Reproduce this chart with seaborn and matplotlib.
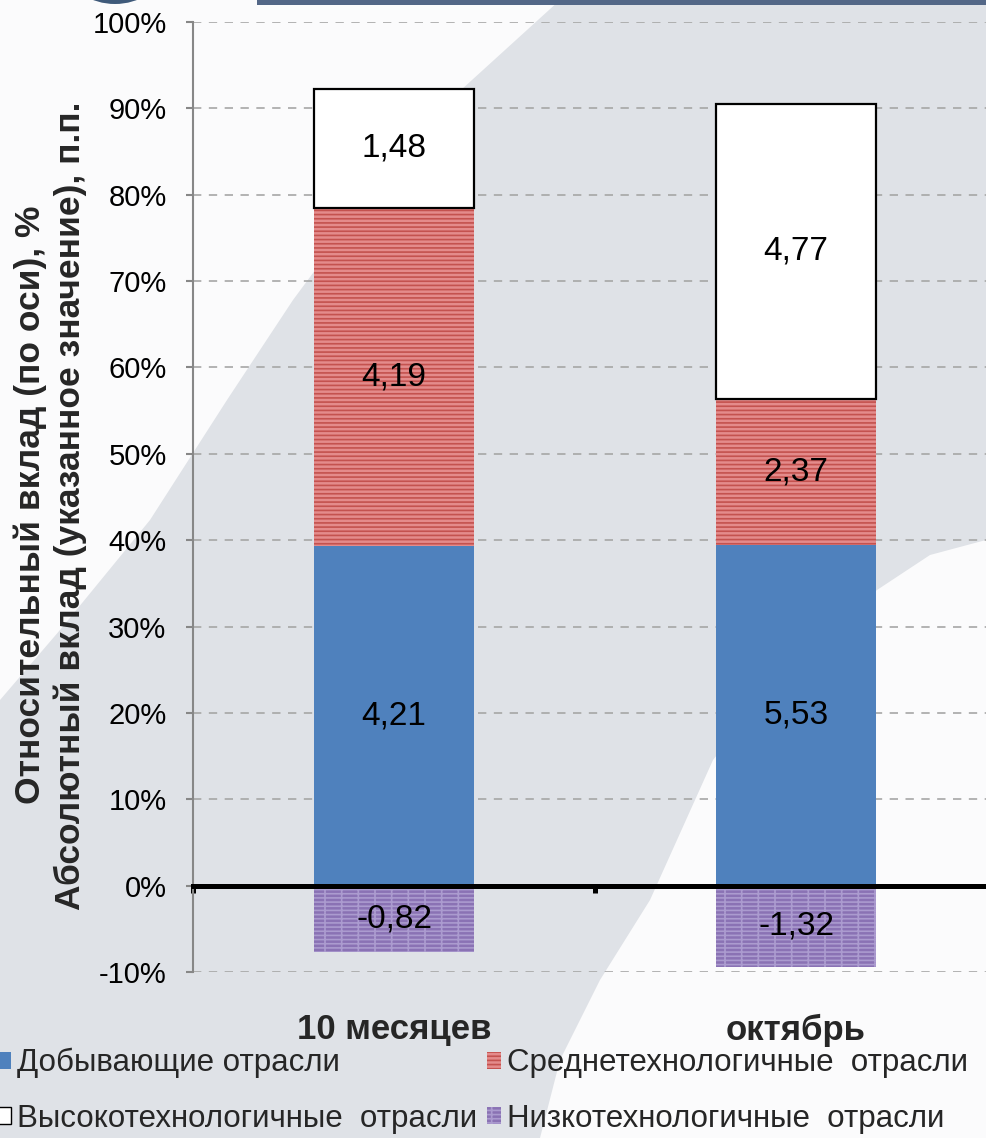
import matplotlib
matplotlib.use('Agg')
import matplotlib.pyplot as plt
import seaborn as sns
import numpy as np
from matplotlib.patches import Polygon, Ellipse, Rectangle, Patch

# ---------------- data ----------------
categories = ['10 месяцев', 'октябрь']
series_names = ['Добывающие отрасли', 'Среднетехнологичные  отрасли',
                'Высокотехнологичные  отрасли', 'Низкотехнологичные  отрасли']
share_mining = [39.3, 39.5]     # relative contribution, %
share_medium = [39.2, 16.9]
share_high = [13.8, 34.1]
share_low = [-7.7, -9.4]
abs_mining = ['4,21', '5,53']   # absolute contribution, p.p. (labels)
abs_medium = ['4,19', '2,37']
abs_high = ['1,48', '4,77']
abs_low = ['-0,82', '-1,32']
yticks = list(range(-10, 101, 10))
ytick_labels = [f'{v}%' for v in yticks]
ylabel_1 = 'Относительный вклад (по оси), %'
ylabel_2 = 'Абсолютный вклад (указанное значение), п.п.'

# ---------------- style ----------------
sns.set_style('white')
plt.rcParams['font.family'] = ['Liberation Sans', 'DejaVu Sans']
plt.rcParams['hatch.linewidth'] = 1.2

W, H = 986, 1138
BG = '#dfe2e7'
fig = plt.figure(figsize=(W / 100, H / 100), dpi=100)
fig.patch.set_facecolor(BG)


def P(x, y):
    return (x / W, 1 - y / H)


# background decorations (slide artwork)
left_white = [P(0, 0), P(560, 0), P(450, 100), P(367, 200), P(293, 300),
              P(227, 400), P(150, 520), P(60, 630), P(0, 700)]
fig.patches.append(Polygon(left_white, closed=True, transform=fig.transFigure,
                           facecolor='#fbfbfc', edgecolor='none', zorder=-5))
right_white = [P(986, 540), P(930, 555), P(877, 590), P(800, 650), P(713, 760),
               P(650, 900), P(600, 980), P(560, 1060), P(540, 1138), P(986, 1138)]
fig.patches.append(Polygon(right_white, closed=True, transform=fig.transFigure,
                           facecolor='#fbfbfc', edgecolor='none', zorder=-5))
fig.patches.append(Rectangle(P(257, 5), (W - 257) / W, 5 / H, transform=fig.transFigure,
                             facecolor='#536787', edgecolor='none', zorder=-4))
fig.patches.append(Ellipse(P(115, -28), 90 / W, 64 / H, transform=fig.transFigure,
                           facecolor='#3f5a7a', edgecolor='none', zorder=-4))

ax = fig.add_axes([193 / W, 1 - 972 / H, (997 - 193) / W, (972 - 22) / H])
ax.set_facecolor('none')

BW = 0.4
RED_FACE, RED_LINE = '#e48b8b', '#c4524f'
PUR_FACE, PUR_LINE = '#8a72b4', '#ab9bcf'
bottom_high = [a + b for a, b in zip(share_mining, share_medium)]

sns.barplot(x=categories, y=share_mining, order=categories, width=BW,
            color='#4f81bd', saturation=1, edgecolor='none', linewidth=0,
            errorbar=None, ax=ax, zorder=2)
sns.barplot(x=categories, y=share_medium, order=categories, width=BW,
            bottom=share_mining, color=RED_FACE, saturation=1, hatch='----',
            edgecolor=RED_LINE, linewidth=0, errorbar=None, ax=ax, zorder=2)
sns.barplot(x=categories, y=share_high, order=categories, width=BW,
            bottom=bottom_high, color='white', saturation=1,
            edgecolor='black', linewidth=1.6, errorbar=None, ax=ax, zorder=2)
sns.barplot(x=categories, y=share_low, order=categories, width=BW,
            color=PUR_FACE, saturation=1, hatch='----|',
            edgecolor=PUR_LINE, linewidth=0, errorbar=None, ax=ax, zorder=2)

# value labels
for vals, bots, labs in [(share_mining, [0, 0], abs_mining),
                         (share_medium, share_mining, abs_medium),
                         (share_high, bottom_high, abs_high),
                         (share_low, [0, 0], abs_low)]:
    for i in range(len(categories)):
        ax.text(i, bots[i] + vals[i] / 2, labs[i], ha='center', va='center',
                fontsize=24, color='black', zorder=5)

ax.set_xlim(-0.5, 1.5)
ax.set_ylim(-10, 100)
ax.set_yticks(yticks, ytick_labels)
ax.set_xticks([0, 1], categories)
ax.set_xticks([-0.5, 0.5, 1.5], minor=True)
ax.set_xlabel('')
ax.set_ylabel('')

for s in ['top', 'right']:
    ax.spines[s].set_visible(False)
ax.spines['left'].set_color('#878787')
ax.spines['left'].set_linewidth(1.5)
ax.spines['bottom'].set_position(('data', 0))
ax.spines['bottom'].set_color('black')
ax.spines['bottom'].set_linewidth(3.6)
ax.spines['bottom'].set_zorder(4)

ax.tick_params(axis='y', length=5, width=1.5, color='#878787', labelsize=21,
               pad=14, labelcolor='black', direction='out', left=True)
ax.tick_params(axis='x', which='major', length=0, pad=92, labelsize=25)
ax.tick_params(axis='x', which='minor', length=5, width=3.6, color='black',
               direction='out', bottom=True)
for lbl in ax.get_xticklabels():
    lbl.set_fontweight('bold')

ax.yaxis.grid(True, linestyle=(0, (5, 4.5)), color='#a6a6a6', linewidth=1.2)
ax.xaxis.grid(False)
ax.set_axisbelow(True)

fig.text(30 / W, 1 - 505 / H, ylabel_1, rotation=90, ha='center', va='center',
         fontsize=25.5, fontweight='bold')
fig.text(70 / W, 1 - 506 / H, ylabel_2, rotation=90, ha='center', va='center',
         fontsize=25.5, fontweight='bold')

handles = [Patch(facecolor='#4f81bd', edgecolor='none'),
           Patch(facecolor='white', edgecolor='black', linewidth=1),
           Patch(facecolor=RED_FACE, edgecolor=RED_LINE, hatch='----', linewidth=0),
           Patch(facecolor=PUR_FACE, edgecolor=PUR_LINE, hatch='----|', linewidth=0)]
labels = [series_names[0], series_names[2], series_names[1], series_names[3]]
fig.legend(handles, labels, loc='upper left', bbox_to_anchor=(-3 / W, 1 - 1048 / H),
           ncol=2, frameon=False, fontsize=22.5, handlelength=0.45, handleheight=0.45,
           handletextpad=0.2, columnspacing=0.3, labelspacing=0.82,
           borderpad=0, borderaxespad=0)

fig.savefig('out.png', dpi=100, facecolor=fig.get_facecolor())
